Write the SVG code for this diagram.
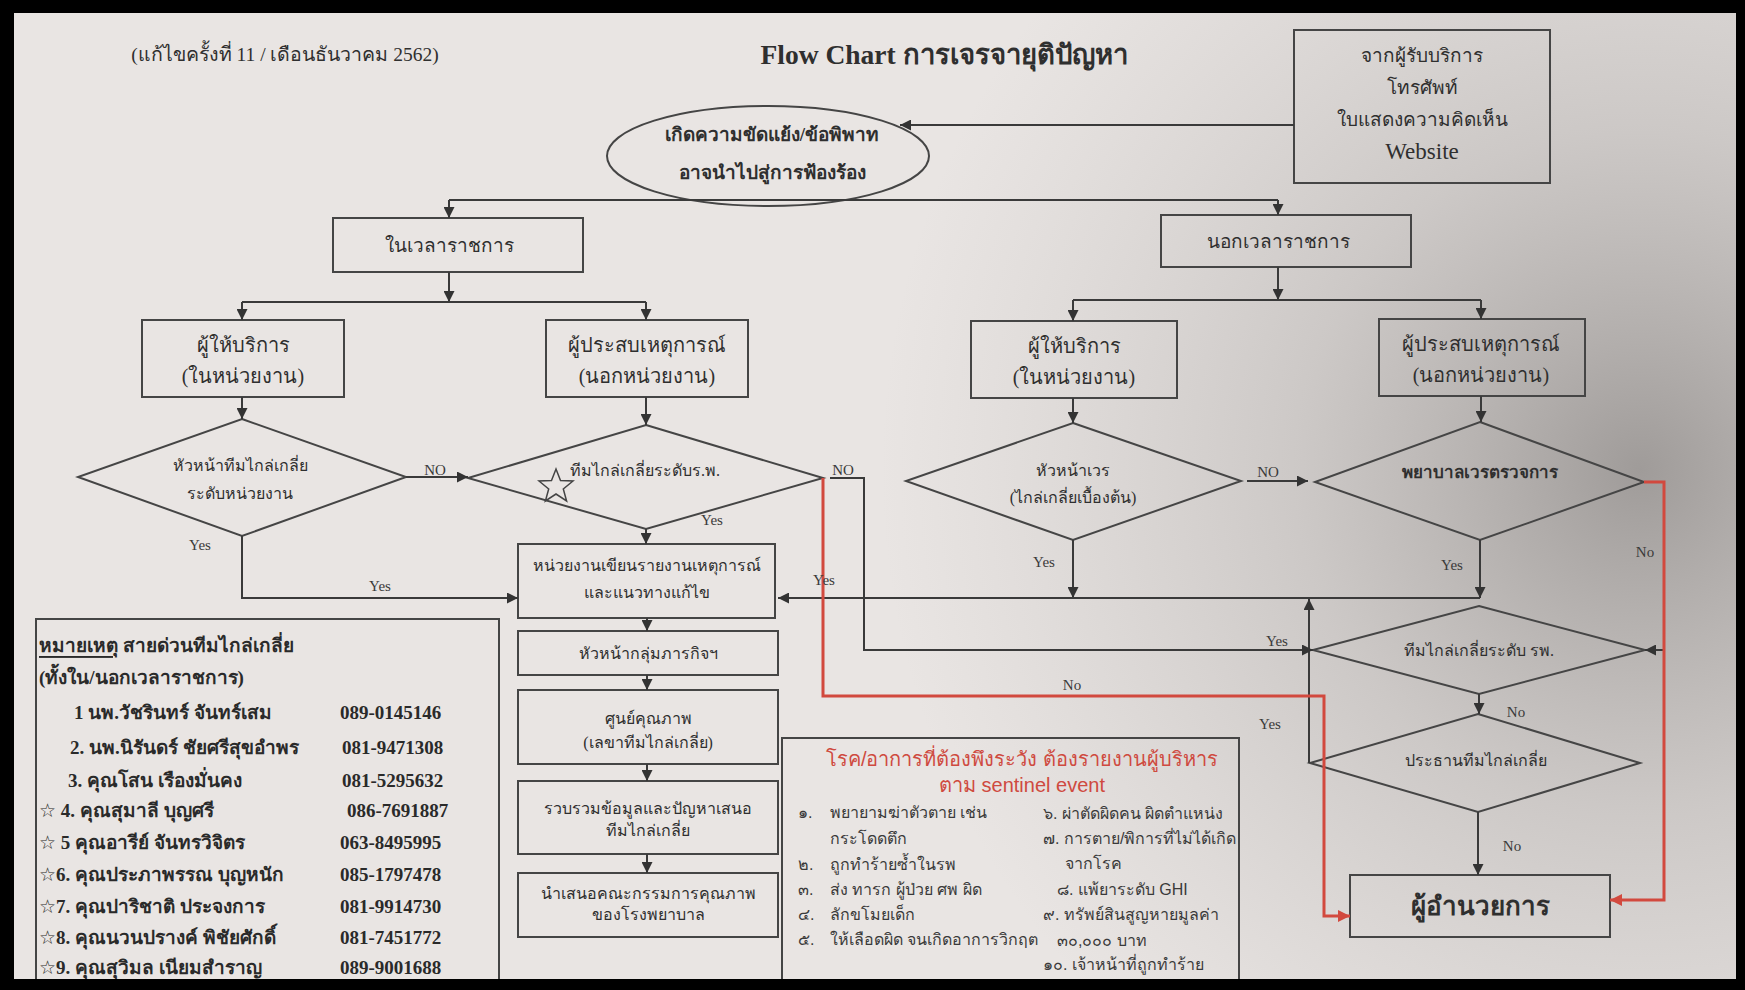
<svg xmlns="http://www.w3.org/2000/svg" width="1745" height="990" viewBox="0 0 1745 990">
<defs>
<radialGradient id="shade" cx="1640" cy="470" r="760" gradientUnits="userSpaceOnUse">
<stop offset="0" stop-color="#6e6a68" stop-opacity="0.6"/>
<stop offset="0.45" stop-color="#8a8684" stop-opacity="0.3"/>
<stop offset="1" stop-color="#a09c9a" stop-opacity="0"/>
</radialGradient>
<marker id="ah" viewBox="0 0 10 10" refX="10" refY="5" markerWidth="11" markerHeight="11" markerUnits="userSpaceOnUse" orient="auto"><path d="M0,0 L10,5 L0,10 z" fill="#333"/></marker>
<marker id="ahr" viewBox="0 0 10 10" refX="10" refY="5" markerWidth="12" markerHeight="12" markerUnits="userSpaceOnUse" orient="auto"><path d="M0,0 L10,5 L0,10 z" fill="#d2493e"/></marker>
</defs>
<style>
.box{fill:none;stroke:#454545;stroke-width:2}
.dia{fill:none;stroke:#454545;stroke-width:2}
.ln{fill:none;stroke:#3a3a3a;stroke-width:2}
.red{fill:none;stroke:#d2493e;stroke-width:3}
.t{font-family:"Liberation Serif",serif;fill:#2f2f2f;text-anchor:middle;dominant-baseline:central}
.s{font-family:"Liberation Sans",sans-serif;fill:#3a3a3a;dominant-baseline:central}
.lg{font-family:"Liberation Serif",serif;fill:#2a2a2a;font-weight:bold;font-size:19px;dominant-baseline:central}
.lab{font-family:"Liberation Serif",serif;fill:#3a3a3a;font-size:15px;text-anchor:middle;dominant-baseline:central}
.rt{font-family:"Liberation Sans",sans-serif;fill:#cf4a40;text-anchor:middle;dominant-baseline:central}
.star{font-family:"DejaVu Sans",sans-serif}
</style>
<rect x="0" y="0" width="1745" height="990" fill="#e9e5e3"/>
<rect x="0" y="0" width="1745" height="990" fill="url(#shade)"/>

<text class="t" x="285" y="54" font-size="19.5">(แก้ไขครั้งที่ 11 / เดือนธันวาคม 2562)</text>
<text class="t" x="944" y="54" font-size="27.5" font-weight="bold">Flow Chart การเจรจายุติปัญหา</text>

<g id="source">
<rect class="box" x="1294" y="30" width="256" height="153"/>
<text class="t" x="1422" y="55" font-size="19">จากผู้รับบริการ</text>
<text class="t" x="1422" y="87" font-size="19">โทรศัพท์</text>
<text class="t" x="1422" y="119" font-size="19">ใบแสดงความคิดเห็น</text>
<text class="t" x="1422" y="151" font-size="23">Website</text>
</g>
<g id="conflict">
<ellipse class="box" cx="768" cy="156" rx="161" ry="50"/>
<text class="t" x="772" y="134" font-size="19" font-weight="bold">เกิดความขัดแย้ง/ข้อพิพาท</text>
<text class="t" x="772" y="172" font-size="19" font-weight="bold">อาจนำไปสู่การฟ้องร้อง</text>
</g>
<g id="inhours">
<rect class="box" x="333" y="218" width="250" height="54"/>
<text class="t" x="449" y="245" font-size="19">ในเวลาราชการ</text>
</g>
<g id="offhours">
<rect class="box" x="1161" y="215" width="250" height="52"/>
<text class="t" x="1278" y="241" font-size="19">นอกเวลาราชการ</text>
</g>
<g id="provider-l">
<rect class="box" x="142" y="320" width="202" height="77"/>
<text class="t" x="243" y="345" font-size="20">ผู้ให้บริการ</text>
<text class="t" x="243" y="376" font-size="20">(ในหน่วยงาน)</text>
</g>
<g id="witness-l">
<rect class="box" x="546" y="320" width="202" height="77"/>
<text class="t" x="647" y="345" font-size="20">ผู้ประสบเหตุการณ์</text>
<text class="t" x="647" y="376" font-size="20">(นอกหน่วยงาน)</text>
</g>
<g id="provider-r">
<rect class="box" x="971" y="321" width="206" height="77"/>
<text class="t" x="1074" y="346" font-size="20">ผู้ให้บริการ</text>
<text class="t" x="1074" y="377" font-size="20">(ในหน่วยงาน)</text>
</g>
<g id="witness-r">
<rect class="box" x="1379" y="319" width="206" height="77"/>
<text class="t" x="1481" y="344" font-size="20">ผู้ประสบเหตุการณ์</text>
<text class="t" x="1481" y="375" font-size="20">(นอกหน่วยงาน)</text>
</g>
<g id="d1">
<polygon class="dia" points="242,419 406,477 242,536 78,477"/>
<text class="t" x="240" y="465" font-size="16">หัวหน้าทีมไกล่เกลี่ย</text>
<text class="t" x="240" y="493" font-size="16">ระดับหน่วยงาน</text>
</g>
<g id="d2">
<polygon class="dia" points="646,425 823,478 646,529 468,478"/>
<text class="t" x="645" y="470" font-size="16">ทีมไกล่เกลี่ยระดับร.พ.</text>
<polygon points="556,469 560.5,480.5 573,481 563.3,489 566.6,501 556,494 545.4,501 548.7,489 539,481 551.5,480.5" fill="none" stroke="#444" stroke-width="1.5"/>
</g>
<g id="d3">
<polygon class="dia" points="1073,423 1241,481 1073,540 906,481"/>
<text class="t" x="1073" y="470" font-size="16">หัวหน้าเวร</text>
<text class="t" x="1073" y="497" font-size="16">(ไกล่เกลี่ยเบื้องต้น)</text>
</g>
<g id="d4">
<polygon class="dia" points="1480,422 1644,482 1480,540 1315,482"/>
<text class="t" x="1480" y="472" font-size="17" font-weight="bold">พยาบาลเวรตรวจการ</text>
</g>
<g id="report">
<rect class="box" x="518" y="544" width="257" height="74"/>
<text class="t" x="647" y="565" font-size="16">หน่วยงานเขียนรายงานเหตุการณ์</text>
<text class="t" x="647" y="592" font-size="16">และแนวทางแก้ไข</text>
</g>
<g id="head">
<rect class="box" x="518" y="631" width="260" height="44"/>
<text class="t" x="648" y="653" font-size="16">หัวหน้ากลุ่มภารกิจฯ</text>
</g>
<g id="quality">
<rect class="box" x="518" y="690" width="260" height="74"/>
<text class="t" x="648" y="718" font-size="16">ศูนย์คุณภาพ</text>
<text class="t" x="648" y="742" font-size="16">(เลขาทีมไกล่เกลี่ย)</text>
</g>
<g id="collect">
<rect class="box" x="518" y="781" width="260" height="73"/>
<text class="t" x="648" y="808" font-size="16">รวบรวมข้อมูลและปัญหาเสนอ</text>
<text class="t" x="648" y="830" font-size="16">ทีมไกล่เกลี่ย</text>
</g>
<g id="present">
<rect class="box" x="518" y="873" width="260" height="64"/>
<text class="t" x="648" y="893" font-size="16">นำเสนอคณะกรรมการคุณภาพ</text>
<text class="t" x="648" y="914" font-size="16">ของโรงพยาบาล</text>
</g>
<g id="d5">
<polygon class="dia" points="1479,606 1645,650 1479,694 1313,650"/>
<text class="t" x="1479" y="650" font-size="16">ทีมไกล่เกลี่ยระดับ รพ.</text>
</g>
<g id="d6">
<polygon class="dia" points="1478,714 1640,763 1478,812 1310,763"/>
<text class="t" x="1476" y="760" font-size="16">ประธานทีมไกล่เกลี่ย</text>
</g>
<g id="director">
<rect class="box" x="1350" y="875" width="260" height="62"/>
<text class="t" x="1480" y="906" font-size="26" font-weight="bold">ผู้อำนวยการ</text>
</g>

<g id="legend">
<rect class="box" x="36" y="619" width="463" height="380"/>
<text class="lg" x="39" y="645"><tspan text-decoration="underline">หมายเหตุ</tspan>  สายด่วนทีมไกล่เกลี่ย</text>
<text class="lg" x="39" y="677">(ทั้งใน/นอกเวลาราชการ)</text>
<text class="lg" x="74" y="712">1 นพ.วัชรินทร์ จันทร์เสม</text><text class="lg" x="340" y="712">089-0145146</text>
<text class="lg" x="70" y="747">2. นพ.นิรันดร์ ชัยศรีสุขอำพร</text><text class="lg" x="342" y="747">081-9471308</text>
<text class="lg" x="68" y="780">3. คุณโสน  เรืองมั่นคง</text><text class="lg" x="342" y="780">081-5295632</text>
<text class="lg" x="39" y="810"><tspan class="star" font-weight="normal">☆</tspan> 4. คุณสุมาลี บุญศรี</text><text class="lg" x="347" y="810">086-7691887</text>
<text class="lg" x="39" y="842"><tspan class="star" font-weight="normal">☆</tspan> 5 คุณอารีย์ จันทรวิจิตร</text><text class="lg" x="340" y="842">063-8495995</text>
<text class="lg" x="39" y="874"><tspan class="star" font-weight="normal">☆</tspan>6. คุณประภาพรรณ บุญหนัก</text><text class="lg" x="340" y="874">085-1797478</text>
<text class="lg" x="39" y="906"><tspan class="star" font-weight="normal">☆</tspan>7. คุณปาริชาติ ประจงการ</text><text class="lg" x="340" y="906">081-9914730</text>
<text class="lg" x="39" y="937"><tspan class="star" font-weight="normal">☆</tspan>8. คุณนวนปรางค์  พิชัยศักดิ์</text><text class="lg" x="340" y="937">081-7451772</text>
<text class="lg" x="39" y="967"><tspan class="star" font-weight="normal">☆</tspan>9. คุณสุวิมล เนียมสำราญ</text><text class="lg" x="340" y="967">089-9001688</text>
</g>

<g id="sentinel">
<rect class="box" x="782" y="738" width="457" height="260"/>
<text class="rt" x="1022" y="759" font-size="20">โรค/อาการที่ต้องพึงระวัง ต้องรายงานผู้บริหาร</text>
<text class="rt" x="1022" y="785" font-size="20">ตาม sentinel event</text>
<text class="s" x="798" y="812" font-size="16">๑.</text><text class="s" x="830" y="812" font-size="16">พยายามฆ่าตัวตาย เช่น</text>
<text class="s" x="830" y="838" font-size="16">กระโดดตึก</text>
<text class="s" x="798" y="864" font-size="16">๒.</text><text class="s" x="830" y="864" font-size="16">ถูกทำร้ายซ้ำในรพ</text>
<text class="s" x="798" y="889" font-size="16">๓.</text><text class="s" x="830" y="889" font-size="16">ส่ง ทารก ผู้ป่วย ศพ ผิด</text>
<text class="s" x="798" y="914" font-size="16">๔.</text><text class="s" x="830" y="914" font-size="16">ลักขโมยเด็ก</text>
<text class="s" x="798" y="939" font-size="16">๕.</text><text class="s" x="830" y="939" font-size="16">ให้เลือดผิด จนเกิดอาการวิกฤต</text>
<text class="s" x="1043" y="813" font-size="16">๖. ผ่าตัดผิดคน ผิดตำแหน่ง</text>
<text class="s" x="1043" y="838" font-size="16">๗. การตาย/พิการที่ไม่ได้เกิด</text>
<text class="s" x="1065" y="863" font-size="16">จากโรค</text>
<text class="s" x="1057" y="889" font-size="16">๘. แพ้ยาระดับ GHI</text>
<text class="s" x="1043" y="914" font-size="16">๙. ทรัพย์สินสูญหายมูลค่า</text>
<text class="s" x="1057" y="940" font-size="16">๓๐,๐๐๐ บาท</text>
<text class="s" x="1043" y="964" font-size="16">๑๐. เจ้าหน้าที่ถูกทำร้าย</text>
</g>

<g id="connectors">
<path class="ln" d="M1294,125 H900" marker-end="url(#ah)"/>
<path class="ln" d="M449,200 H1278"/>
<path class="ln" d="M449,200 V218" marker-end="url(#ah)"/>
<path class="ln" d="M1278,200 V215" marker-end="url(#ah)"/>
<path class="ln" d="M449,272 V302" marker-end="url(#ah)"/>
<path class="ln" d="M242,302 H646"/>
<path class="ln" d="M242,302 V320" marker-end="url(#ah)"/>
<path class="ln" d="M646,302 V320" marker-end="url(#ah)"/>
<path class="ln" d="M1278,267 V300" marker-end="url(#ah)"/>
<path class="ln" d="M1073,300 H1481"/>
<path class="ln" d="M1073,300 V321" marker-end="url(#ah)"/>
<path class="ln" d="M1481,300 V319" marker-end="url(#ah)"/>
<path class="ln" d="M242,397 V419" marker-end="url(#ah)"/>
<path class="ln" d="M646,397 V425" marker-end="url(#ah)"/>
<path class="ln" d="M1073,398 V423" marker-end="url(#ah)"/>
<path class="ln" d="M1481,396 V422" marker-end="url(#ah)"/>
<path class="ln" d="M406,477 H468" marker-end="url(#ah)"/>
<path class="ln" d="M1247,481 H1308" marker-end="url(#ah)"/>
<path class="ln" d="M242,536 V598 H518" marker-end="url(#ah)"/>
<path class="ln" d="M646,529 V544" marker-end="url(#ah)"/>
<path class="ln" d="M647,618 V631" marker-end="url(#ah)"/>
<path class="ln" d="M647,675 V690" marker-end="url(#ah)"/>
<path class="ln" d="M647,764 V781" marker-end="url(#ah)"/>
<path class="ln" d="M647,854 V873" marker-end="url(#ah)"/>
<path class="ln" d="M1073,540 V598" marker-end="url(#ah)"/>
<path class="ln" d="M1480,540 V598" marker-end="url(#ah)"/>
<path class="ln" d="M1480,598 H778" marker-end="url(#ah)"/>
<path class="ln" d="M1309,763 V599" marker-end="url(#ah)"/>
<path class="ln" d="M830,478 H864 V650 H1313" marker-end="url(#ah)"/>
<path class="ln" d="M1664,650 H1645" marker-end="url(#ah)"/>
<path class="ln" d="M1479,694 V714" marker-end="url(#ah)"/>
<path class="ln" d="M1478,812 V875" marker-end="url(#ah)"/>
<path class="red" d="M823,478 V696 H1324 V916 H1350" marker-end="url(#ahr)"/>
<path class="red" d="M1644,482 H1664 V900 H1610" marker-end="url(#ahr)"/>
<text class="lab" x="435" y="470">NO</text>
<text class="lab" x="843" y="470">NO</text>
<text class="lab" x="1268" y="472">NO</text>
<text class="lab" x="200" y="545">Yes</text>
<text class="lab" x="380" y="586">Yes</text>
<text class="lab" x="712" y="520">Yes</text>
<text class="lab" x="824" y="580">Yes</text>
<text class="lab" x="1044" y="562">Yes</text>
<text class="lab" x="1452" y="565">Yes</text>
<text class="lab" x="1277" y="641">Yes</text>
<text class="lab" x="1270" y="724">Yes</text>
<text class="lab" x="1645" y="552">No</text>
<text class="lab" x="1072" y="685">No</text>
<text class="lab" x="1516" y="712">No</text>
<text class="lab" x="1512" y="846">No</text>
</g>
<path d="M0,0 H1745 V990 H0 Z M14,13 V979 H1736 V13 Z" fill="#000" fill-rule="evenodd"/>
</svg>
